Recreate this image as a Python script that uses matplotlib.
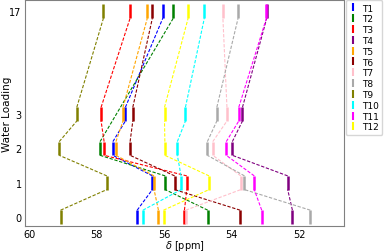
import matplotlib.pyplot as plt
from matplotlib.lines import Line2D

labels = ["T1", "T2", "T3", "T4", "T5", "T6", "T7", "T8", "T9", "T10", "T11", "T12"]
colors = ["blue", "green", "red", "purple", "orange", "darkred", "pink", "darkgrey",
          "olive", "cyan", "magenta", "yellow"]

loadings = ["0", "1", "2", "3", "17"]
# plotted positions of the water loadings (17 is squeezed in above 3)
levels = [0, 1, 2, 3, 6]

# chemical shifts per series, None where there is no point
shifts = {
    "T1":  [56.80, 56.35, 57.52, 57.15, 56.04],
    "T2":  [54.71, 55.97, 57.90, None, 55.73],
    "T3":  [55.40, 55.33, 57.78, 57.87, 57.01],
    "T4":  [52.20, 52.34, 53.98, 53.68, 52.96],
    "T5":  [56.17, 56.30, 57.43, 57.22, 56.50],
    "T6":  [53.75, 55.69, 57.01, 56.93, 56.35],
    "T7":  [55.36, 53.73, 54.56, 54.14, 54.26],
    "T8":  [51.67, 53.62, 54.72, 54.44, 53.81],
    "T9":  [59.07, 57.70, 59.11, 58.59, 57.80],
    "T10": [56.63, 55.50, 55.61, 55.37, 54.81],
    "T11": [53.11, 53.33, 54.16, 53.79, 52.97],
    "T12": [56.02, 54.67, 55.98, 55.99, 55.29],
}

half = 0.2

fig = plt.figure(figsize=(3.87, 2.53), dpi=100)
ax = fig.add_axes([0.065, 0.103, 0.824, 0.893])

for name, c in zip(labels, colors):
    pts = [(lv, s) for lv, s in zip(levels, shifts[name]) if s is not None]
    # dashed connectors from top of one bar to bottom of the next
    for (l0, s0), (l1, s1) in zip(pts[:-1], pts[1:]):
        ax.plot([s0, s1], [l0 + half, l1 - half], color=c, ls="--", lw=0.8, dashes=(3, 1.5))
    for lv, s in pts:
        ax.plot([s, s], [lv - half, lv + half], color=c, lw=1.8, solid_capstyle="butt")

ax.set_xlim(60.12, 50.67)
ax.set_ylim(-0.26, 6.33)
ax.set_xticks([60, 58, 56, 54, 52])
ax.set_yticks(levels)
ax.set_yticklabels(loadings)
ax.tick_params(labelsize=7, length=0, pad=2.5)
ax.set_xlabel(r"$\delta$ [ppm]", fontsize=7)
ax.set_ylabel("Water Loading", fontsize=7.5)
ax.xaxis.set_label_coords(0.5, -0.052)
ax.yaxis.set_label_coords(-0.04, 0.5)
for sp in ax.spines.values():
    sp.set_color("grey")

handles = [Line2D([], [], color=c, marker="|", ls="None", markersize=6, mew=1.5) for c in colors]
ax.legend(handles, labels, loc="upper left", bbox_to_anchor=(1.005, 1.0), borderaxespad=0,
          fontsize=6.5, handlelength=0.8, labelspacing=0.2, handletextpad=0.6, borderpad=0.4)

fig.savefig("out.png", dpi=100)
